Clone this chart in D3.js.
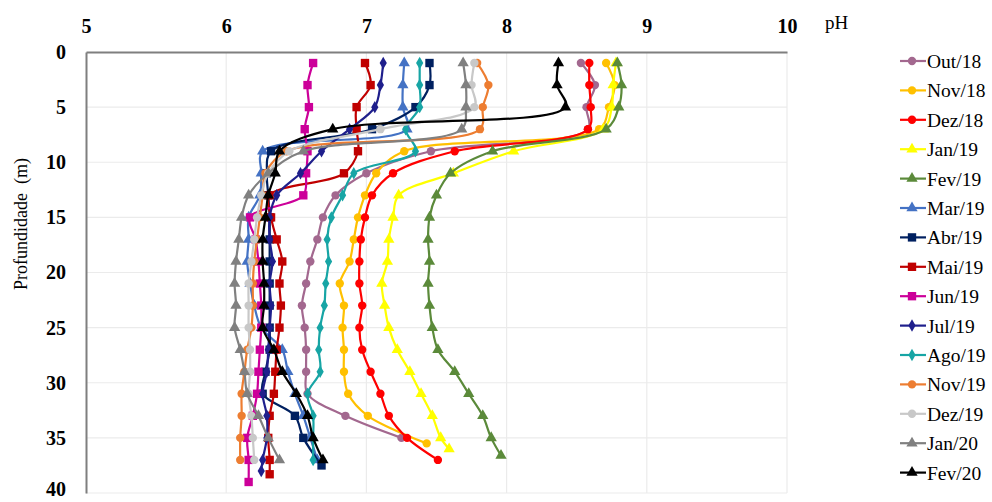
<!DOCTYPE html>
<html>
<head>
<meta charset="utf-8">
<script src="https://cdn.jsdelivr.net/npm/d3@7/dist/d3.min.js"></script>
<style>
  html, body { margin: 0; padding: 0; background: #fff; }
  svg { display: block; }
</style>
</head>
<body>
<svg id="chart" width="992" height="502"></svg>
<script>
// Vertical pH profiles: [depth (m), pH] for each sampling month
const out18 = [[1,8.53],[3,8.63],[5,8.57],[7,8.58],[9,7.46],[11,7.0],[13,6.78],[15,6.69],[17,6.65],[19,6.60],[21,6.57],[23,6.54],[25,6.56],[27,6.57],[29,6.57],[31,6.58],[33,6.85],[35,7.25]];
const nov18 = [[1,8.71],[3,8.77],[5,8.73],[7,8.66],[9,7.27],[11,7.07],[13,6.99],[15,6.94],[17,6.91],[19,6.88],[21,6.81],[23,6.84],[25,6.83],[27,6.84],[29,6.84],[31,6.87],[33,7.01],[35.5,7.43]];
const dez18 = [[1,8.59],[3,8.59],[5,8.60],[7,8.58],[9,7.63],[11,7.19],[13,7.04],[15,6.99],[17,6.96],[19,6.95],[21,6.95],[23,6.97],[25,6.95],[27,6.97],[29,7.03],[31,7.10],[33,7.16],[35,7.29],[37,7.51]];
const jan19 = [[1,8.78],[3,8.76],[5,8.75],[7,8.69],[9,8.05],[11,7.62],[13,7.23],[15,7.19],[17,7.16],[19,7.15],[21,7.11],[23,7.13],[25,7.16],[27,7.22],[29,7.31],[31,7.39],[33,7.47],[35,7.53],[36,7.59]];
const fev19 = [[1,8.79],[3,8.82],[5,8.80],[7,8.71],[9,7.90],[11,7.60],[13,7.50],[15,7.45],[17,7.44],[19,7.45],[21,7.44],[23,7.45],[25,7.47],[27,7.51],[29,7.63],[31,7.73],[33,7.83],[35,7.89],[36.6,7.96]];
const mar19 = [[1,7.27],[3,7.26],[5,7.26],[7,7.29],[9,6.26],[11,6.25],[13,6.24],[15,6.16],[17,6.16],[19,6.15],[21,6.17],[23,6.20],[25,6.25],[27,6.40],[29,6.44],[31,6.49],[33,6.55],[35,6.60],[37,6.65]];
const abr19 = [[1,7.45],[3,7.45],[5,7.35],[7,7.04],[9,6.32],[11,6.29],[13,6.30],[15,6.31],[17,6.31],[19,6.31],[21,6.31],[23,6.31],[25,6.31],[27,6.31],[29,6.28],[31,6.26],[33,6.49],[35,6.55],[37.5,6.68]];
const mai19 = [[1,6.99],[3,7.03],[5,6.93],[7,6.93],[9,6.94],[11,6.84],[13,6.31],[15,6.32],[17,6.36],[19,6.40],[21,6.38],[23,6.39],[25,6.38],[27,6.36],[29,6.35],[31,6.34],[33,6.31],[35,6.30],[37,6.31],[38.3,6.31]];
const jun19 = [[1,6.62],[3,6.58],[5,6.59],[7,6.56],[9,6.58],[11,6.57],[13,6.55],[15,6.17],[17,6.21],[19,6.23],[21,6.24],[23,6.25],[25,6.25],[27,6.24],[29,6.23],[31,6.22],[33,6.19],[35,6.15],[37,6.16],[39,6.16]];
const jul19 = [[1,7.12],[3,7.10],[5,7.06],[7,6.88],[9,6.68],[11,6.53],[13,6.36],[15,6.31],[17,6.31],[19,6.33],[21,6.31],[23,6.32],[25,6.31],[27,6.30],[29,6.29],[31,6.26],[33,6.29],[35,6.29],[37,6.26],[38,6.25]];
const ago19 = [[1,7.38],[3,7.38],[5,7.38],[7,7.28],[9,7.35],[11,6.91],[13,6.83],[15,6.75],[17,6.72],[19,6.73],[21,6.71],[23,6.70],[25,6.67],[27,6.66],[29,6.67],[31,6.58],[33,6.62],[35,6.62],[37,6.62]];
const nov19 = [[1,7.79],[3,7.87],[5,7.83],[7,7.81],[9,6.43],[11,6.28],[13,6.26],[15,6.24],[17,6.22],[19,6.20],[21,6.19],[23,6.19],[25,6.18],[27,6.15],[29,6.13],[31,6.11],[33,6.11],[35,6.10],[37,6.10]];
const dez19 = [[1,7.77],[3,7.75],[5,7.77],[7,7.10],[9,6.45],[11,6.30],[13,6.25],[15,6.22],[17,6.20],[19,6.18],[21,6.16],[23,6.16],[25,6.16],[27,6.17],[29,6.17],[31,6.16],[33,6.18],[35,6.19],[37,6.20]];
const jan20 = [[1,7.69],[3,7.71],[5,7.71],[7,7.68],[9,6.55],[11,6.30],[13,6.16],[15,6.11],[17,6.09],[19,6.07],[21,6.06],[23,6.07],[25,6.06],[27,6.10],[29,6.13],[31,6.15],[33,6.23],[35,6.30],[37,6.38]];
const fev20 = [[1,8.37],[3,8.36],[5,8.42],[7,6.76],[9,6.38],[11,6.35],[13,6.30],[15,6.28],[17,6.26],[19,6.26],[21,6.27],[23,6.27],[25,6.26],[27,6.34],[29,6.40],[31,6.50],[33,6.58],[35,6.62],[37,6.69]];

const seriesNames  = ["Out/18","Nov/18","Dez/18","Jan/19","Fev/19","Mar/19","Abr/19","Mai/19","Jun/19","Jul/19","Ago/19","Nov/19","Dez/19","Jan/20","Fev/20"];
const seriesValues = [out18, nov18, dez18, jan19, fev19, mar19, abr19, mai19, jun19, jul19, ago19, nov19, dez19, jan20, fev20];
const seriesColors = ["#A3688F","#FFC000","#FF0000","#FFFF00","#5B8A3A","#4472C4","#002060","#C00000","#CC0099","#1F1F8C","#17A5A5","#ED7D31","#C8C8C8","#808080","#000000"];
const seriesMarkers = ["circle","circle","circle","triangle","triangle","triangle","square","square","square","diamond","diamond","circle","circle","triangle","triangle"];

const phTicks = [5, 6, 7, 8, 9, 10];
const depthTicks = [0, 5, 10, 15, 20, 25, 30, 35, 40];

const svg = d3.select("#chart");
const plotLeft = 86, plotRight = 787, plotTop = 52, plotBottom = 493;
const serif = "'Liberation Serif', 'Times New Roman', serif";

const x = d3.scaleLinear().domain([5, 10]).range([plotLeft, plotRight]);
const y = d3.scaleLinear().domain([0, 40]).range([plotTop, plotBottom]);

// Gridlines
const grid = svg.append("g");
grid.selectAll("line.v").data(phTicks.slice(1)).join("line")
  .attr("class", "v")
  .attr("x1", d => x(d)).attr("x2", d => x(d))
  .attr("y1", plotTop).attr("y2", plotBottom)
  .attr("stroke", "#EBEBEB").attr("stroke-width", 1.2);
grid.selectAll("line.h").data(depthTicks.slice(1)).join("line")
  .attr("class", "h")
  .attr("x1", plotLeft).attr("x2", plotRight)
  .attr("y1", d => y(d)).attr("y2", d => y(d))
  .attr("stroke", "#EBEBEB").attr("stroke-width", 1.2);

// Axes: pH on top, depth on the left
const xAxis = d3.axisTop(x).tickValues(phTicks).tickFormat(d3.format("d")).tickSize(0).tickPadding(0);
const gx = svg.append("g").attr("transform", `translate(0,${plotTop})`).call(xAxis);
gx.select(".domain").attr("stroke", "#7F7F7F").attr("stroke-width", 2);
gx.selectAll("text")
  .attr("y", -19)
  .attr("font-family", serif)
  .attr("font-size", 20).attr("font-weight", "bold").attr("fill", "#000");

const yAxis = d3.axisLeft(y).tickValues(depthTicks).tickFormat(d3.format("d")).tickSize(0).tickPadding(0);
const gy = svg.append("g").attr("transform", `translate(${plotLeft},0)`).call(yAxis);
gy.select(".domain").attr("stroke", "#7F7F7F").attr("stroke-width", 2);
gy.selectAll("text")
  .attr("x", -20)
  .attr("dy", d => d === 40 ? "0.1em" : "0.32em")
  .attr("font-family", serif)
  .attr("font-size", 20).attr("font-weight", "bold").attr("fill", "#000");

// Axis titles
svg.append("text").attr("x", 825).attr("y", 29)
  .attr("font-family", serif)
  .attr("font-size", 19).attr("fill", "#000").text("pH");
svg.append("text")
  .attr("transform", "translate(27,224) rotate(-90)")
  .attr("text-anchor", "middle")
  .attr("font-family", serif)
  .attr("font-size", 18).attr("fill", "#000")
  .attr("xml:space", "preserve")
  .text("Profundidade  (m)");

// Marker shapes
const symbolFor = {
  circle: d3.symbol().type(d3.symbolCircle).size(55),
  triangle: d3.symbol().type(d3.symbolTriangle).size(55),
  square: d3.symbol().type(d3.symbolSquare).size(70),
  diamond: d3.symbol().type(d3.symbolDiamond).size(45)
};

const line = d3.line()
  .x(d => x(d[1]))
  .y(d => y(d[0]))
  .curve(d3.curveCatmullRom.alpha(0.5));

const plot = svg.append("g");
seriesValues.forEach((vals, i) => {
  const g = plot.append("g");
  g.append("path").datum(vals)
    .attr("d", line)
    .attr("fill", "none")
    .attr("stroke", seriesColors[i])
    .attr("stroke-width", 2.2)
    .attr("stroke-linejoin", "round");
  g.selectAll("path.m").data(vals).join("path")
    .attr("class", "m")
    .attr("transform", d => `translate(${x(d[1])},${y(d[0])})`)
    .attr("d", symbolFor[seriesMarkers[i]]())
    .attr("fill", seriesColors[i]);
});

// Legend
const legend = svg.append("g");
seriesNames.forEach((name, i) => {
  const ly = 61 + i * 29.4;
  const g = legend.append("g").attr("transform", `translate(0,${ly})`);
  g.append("line").attr("x1", 900).attr("x2", 926).attr("y1", 0).attr("y2", 0)
    .attr("stroke", seriesColors[i]).attr("stroke-width", 2.2);
  g.append("path").attr("transform", "translate(912,0)")
    .attr("d", symbolFor[seriesMarkers[i]]())
    .attr("fill", seriesColors[i]);
  g.append("text").attr("x", 927).attr("y", 7)
    .attr("font-family", serif)
    .attr("font-size", 19.5).attr("fill", "#000").text(name);
});
</script>
</body>
</html>
